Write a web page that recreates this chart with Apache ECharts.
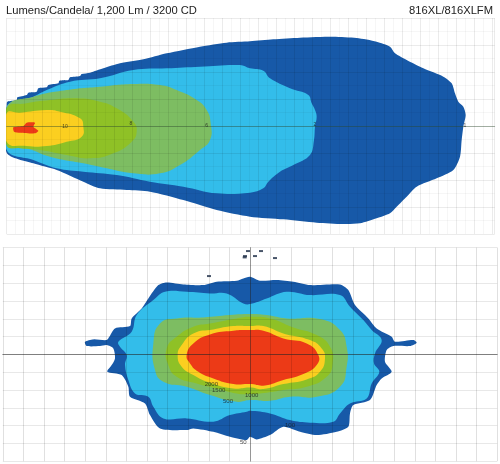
<!DOCTYPE html>
<html><head><meta charset="utf-8"><style>html,body{margin:0;padding:0;background:#fff}#c{width:500px;height:464px}</style>
<script src="https://cdn.jsdelivr.net/npm/echarts@6/dist/echarts.min.js"></script></head><body><div id="c"></div>
<script>
const titleLeft='Lumens/Candela/ 1,200 Lm / 3200 CD';
const titleRight='816XL/816XLFM';
// Side view contours
const topOuter=[[0,63],[2,73],[30,78],[32,86],[60,93],[65,100],[90,103],[95,113],[120,116],[125,123],[155,128],[158,136],[185,138],[190,146],[220,150],[225,156],[250,160],[290,173],[340,188],[410,200],[480,218],[580,238],[660,250],[730,254],[800,260],[880,265],[980,268],[1050,264],[1110,253],[1150,238],[1165,218],[1200,198],[1250,173],[1310,148],[1335,128],[1345,98],[1355,73],[1370,58],[1377,33],[1370,-2],[1365,-42],[1360,-92],[1340,-132],[1290,-157],[1230,-182],[1200,-212],[1170,-242],[1150,-262],[1110,-277],[1060,-292],[1010,-294],[930,-290],[830,-280],[730,-272],[630,-252],[530,-222],[430,-197],[360,-192],[280,-187],[230,-167],[150,-132],[80,-112],[0,-80]];
const topBlue=[[0,58],[80,88],[120,108],[190,133],[280,143],[380,168],[480,173],[580,178],[700,183],[730,173],[770,166],[790,143],[850,113],[905,93],[915,68],[925,48],[930,28],[925,-2],[922,-42],[910,-87],[860,-117],[820,-137],[785,-167],[770,-187],[730,-200],[630,-202],[530,-182],[430,-167],[330,-147],[230,-137],[150,-127],[80,-102],[0,-72]];
const topLightGreen=[[0,56],[80,88],[180,108],[280,118],[380,126],[460,123],[510,108],[570,78],[600,48],[612,8],[610,-42],[580,-72],[520,-117],[460,-142],[380,-142],[300,-127],[230,-112],[130,-92],[60,-67],[0,-57]];
const topGreen=[[0,53],[60,68],[130,78],[210,83],[280,73],[330,53],[380,13],[390,-17],[375,-47],[320,-82],[250,-97],[180,-87],[100,-72],[40,-67],[0,-57]];
const topYellow=[[0,38],[40,40],[120,48],[160,43],[220,23],[230,-2],[225,-32],[180,-47],[120,-60],[60,-60],[0,-47]];
const topRed=[[20,-4],[50,0],[60,10],[85,10],[80,-2],[95,-14],[85,-22],[40,-20],[22,-17]];
const topLabels=[{name:'10',value:[175,-2]},{name:'8',value:[373,6]},{name:'6',value:[600,0]},{name:'2',value:[925,3]},{name:'1',value:[1375,0]}];
// Front view contours
const botOuter=[[-430,43],[-422,53],[-405,78],[-360,85],[-355,108],[-325,138],[-305,168],[-275,208],[-250,216],[-200,210],[-140,208],[-100,218],[-40,221],[-20,228],[0,233],[30,221],[80,223],[130,218],[180,208],[270,210],[295,193],[315,148],[355,108],[380,78],[425,53],[435,38],[490,43],[500,35],[480,25],[430,25],[410,13],[405,-22],[425,-52],[395,-72],[380,-92],[360,-137],[310,-152],[300,-177],[295,-217],[260,-232],[200,-242],[150,-232],[100,-217],[60,-242],[20,-255],[0,-247],[-10,-257],[-60,-247],[-110,-232],[-170,-222],[-190,-227],[-270,-222],[-300,-182],[-315,-147],[-360,-127],[-365,-97],[-385,-62],[-428,-52],[-415,-32],[-405,-12],[-410,18],[-430,28],[-450,25],[-490,25],[-495,38],[-470,45]];
const botBlue=[[-395,38],[-355,68],[-340,118],[-290,163],[-255,188],[-190,188],[-120,183],[-70,183],[-20,153],[0,151],[50,168],[110,188],[180,178],[270,178],[300,143],[340,103],[365,73],[395,43],[375,3],[372,-27],[388,-52],[365,-87],[350,-132],[300,-147],[270,-177],[250,-202],[180,-205],[120,-197],[60,-177],[0,-169],[-10,-172],[-60,-182],[-110,-202],[-190,-192],[-260,-192],[-290,-157],[-305,-127],[-345,-117],[-365,-77],[-375,-32],[-370,-2],[-390,23]];
const botLightGreen=[[-290,33],[-270,93],[-220,108],[-140,111],[-60,118],[0,121],[50,118],[110,108],[210,106],[270,73],[290,23],[290,-37],[270,-97],[200,-127],[120,-127],[60,-139],[0,-137],[-40,-142],[-120,-122],[-190,-97],[-260,-82],[-285,-47]];
const botGreen=[[-250,18],[-220,53],[-170,83],[-120,93],[-40,108],[0,113],[60,108],[130,81],[200,58],[240,23],[248,-27],[230,-67],[170,-97],[100,-107],[50,-115],[0,-119],[-40,-117],[-100,-102],[-160,-87],[-220,-67],[-245,-32]];
const botYellow=[[-217,-2],[-205,28],[-170,63],[-110,75],[-50,85],[0,85],[40,85],[100,63],[180,43],[215,18],[225,-12],[210,-52],[170,-75],[100,-89],[40,-104],[0,-99],[-50,-102],[-120,-85],[-170,-62],[-205,-37]];
const botRed=[[-190,-2],[-170,33],[-120,60],[-50,71],[0,73],[40,71],[100,48],[170,33],[205,-2],[200,-32],[160,-59],[100,-77],[45,-93],[0,-89],[-50,-89],[-110,-72],[-155,-52],[-180,-27]];
const botLabels=[{name:'2000',value:[-116,-91]},{name:'1500',value:[-94,-107]},{name:'500',value:[-66,-140]},{name:'1000',value:[5,-123]},{name:'50',value:[-20,-265]},{name:'100',value:[120,-212]}];
const botSpecks=[[-6,310],[-15,295],[15,295],[33,310],[75,289],[-123,235],[-16,291]];

const C={dark:'#1759a8',blue:'#33bdea',lg:'#7dbd62',g:'#8fc126',y:'#fbcf20',r:'#ec3a17'};
function poly(name,pts,fill,g,smooth){
  return {type:'custom',name,xAxisIndex:g,yAxisIndex:g,silent:true,coordinateSystem:'cartesian2d',data:pts,encode:{x:0,y:1},clip:true,
    renderItem(p,api){ if(p.dataIndex!==0) return null;
      return {type:'polygon',shape:{points:pts.map(q=>api.coord(q)),smooth:smooth||0},style:{fill}};}};
}
function labels(list,g,size){
  return {type:'scatter',xAxisIndex:g,yAxisIndex:g,z:20,silent:true,symbolSize:0,data:list,
    label:{show:true,position:'inside',formatter:'{b}',fontSize:size,color:'#1c1c1c',fontFamily:'Liberation Sans'}};
}
const topGridLine={show:true,lineStyle:{color:'rgba(0,0,0,0.08)',width:1}};
const topMinor={show:true,lineStyle:{color:'rgba(0,0,0,0.035)',width:1}};
const botGridLine=c=>({show:true,lineStyle:{color:c,width:1}});
const titleStyle={fontFamily:'Liberation Sans',fontSize:11.2,fontWeight:'normal',color:'#222'};
const option={
  animation:false,backgroundColor:'#fff',
  title:[
    {text:titleLeft,left:6,top:5,padding:0,textStyle:titleStyle},
    {text:titleRight,right:7,top:5,padding:0,textStyle:titleStyle}
  ],
  grid:[{left:6.67,top:18,width:488,height:216},{left:2.8,top:247.6,width:494.4,height:213.6}],
  xAxis:[
    {type:'value',gridIndex:0,min:0,max:1464,interval:54,z:10,axisLabel:{show:false},axisTick:{show:false},
     axisLine:{show:true,onZero:true,lineStyle:{color:'rgba(50,80,50,0.4)',width:1}},splitLine:topGridLine,minorTick:{splitNumber:2},minorSplitLine:topMinor},
    {type:'value',gridIndex:1,min:-741.6,max:741.6,interval:61.8,z:10,axisLabel:{show:false},axisTick:{show:false},
     axisLine:{show:true,onZero:true,lineStyle:{color:'rgba(40,40,40,0.55)',width:1}},splitLine:botGridLine('rgba(0,0,0,0.12)')}
  ],
  yAxis:[
    {type:'value',gridIndex:0,min:-324,max:324,interval:81,z:10,axisLabel:{show:false},axisTick:{show:false},axisLine:{show:false},
     splitLine:topGridLine,minorTick:{splitNumber:2},minorSplitLine:topMinor},
    {type:'value',gridIndex:1,min:-320.4,max:320.4,interval:53.4,z:10,axisLabel:{show:false},axisTick:{show:false},
     axisLine:{show:true,onZero:true,lineStyle:{color:'rgba(40,40,40,0.4)',width:1}},splitLine:botGridLine('rgba(0,0,0,0.09)')}
  ],
  series:[
    poly('topOuter',topOuter,C.dark,0,0.25),poly('topBlue',topBlue,C.blue,0,0.4),poly('topLightGreen',topLightGreen,C.lg,0,0.5),
    poly('topGreen',topGreen,C.g,0,0.5),poly('topYellow',topYellow,C.y,0,0.5),poly('topRed',topRed,C.r,0,0.2),
    labels(topLabels,0,5),
    poly('botOuter',botOuter,C.dark,1,0.25),poly('botBlue',botBlue,C.blue,1,0.4),poly('botLightGreen',botLightGreen,C.lg,1,0.5),
    poly('botGreen',botGreen,C.g,1,0.5),poly('botYellow',botYellow,C.y,1,0.5),poly('botRed',botRed,C.r,1,0.5),
    labels(botLabels,1,6),
    {type:'scatter',xAxisIndex:1,yAxisIndex:1,z:20,silent:true,symbol:'rect',symbolSize:[4,2],itemStyle:{color:'#1a2a44'},data:botSpecks}
  ]
};
echarts.init(document.getElementById('c'),null,{renderer:'canvas'}).setOption(option);
</script></body></html>
